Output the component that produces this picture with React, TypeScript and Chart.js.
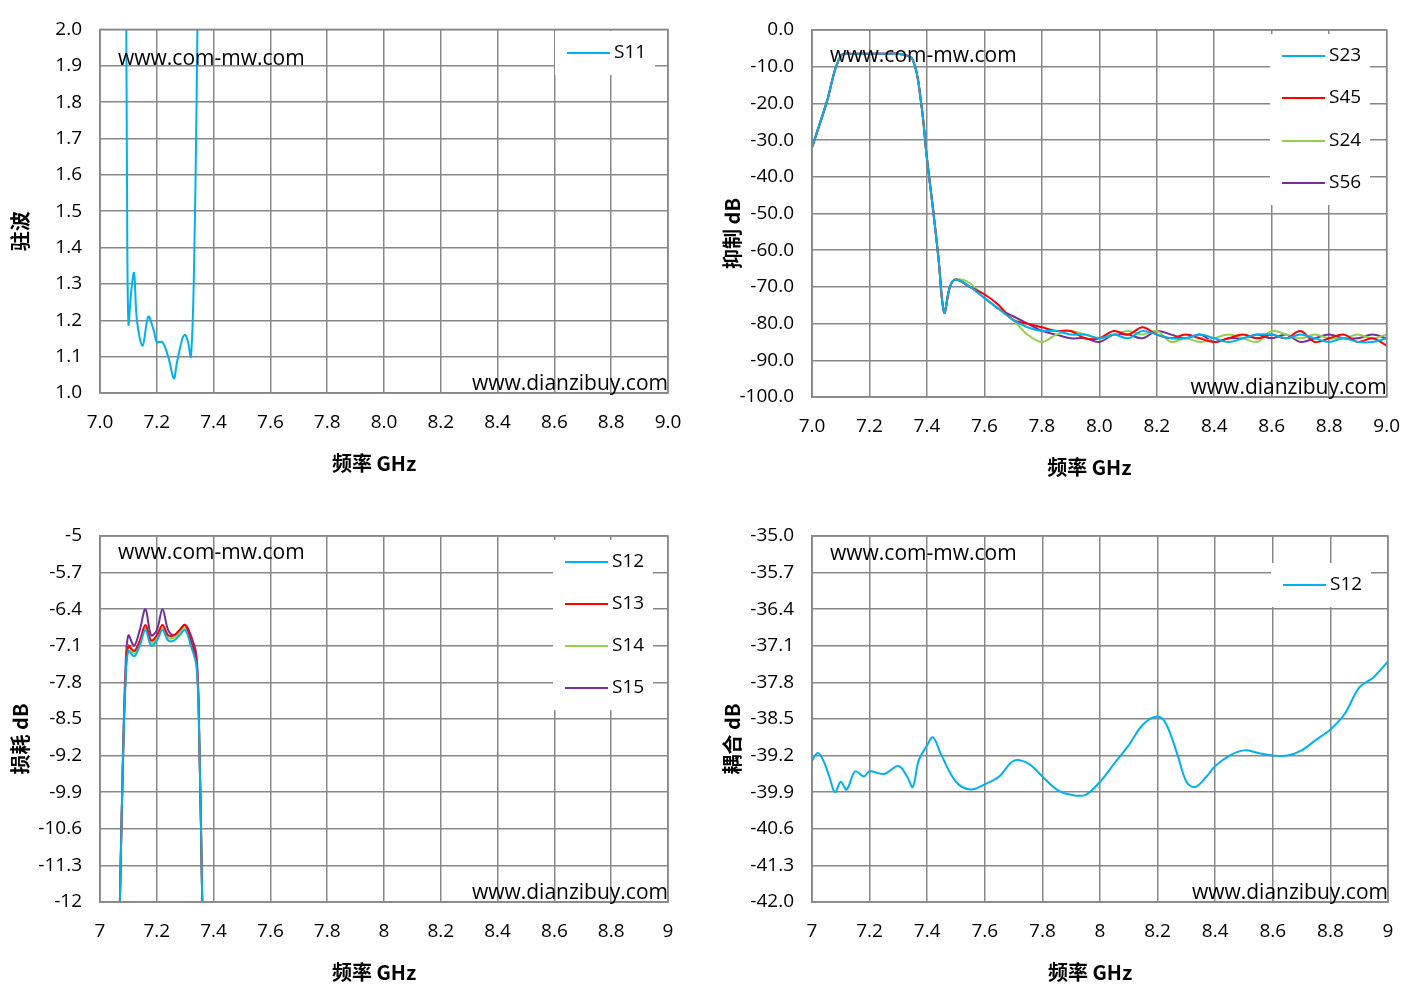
import React, { useEffect, useRef } from "react";
import { Chart, registerables } from "chart.js";
Chart.register(...registerables);

// ---------- data ----------
const s11X = [7.09, 7.095, 7.1, 7.11, 7.12, 7.13, 7.15, 7.17, 7.19, 7.2, 7.22, 7.24, 7.26, 7.27, 7.29, 7.3, 7.31, 7.32, 7.33, 7.34, 7.35];
const s11Y = [2.5, 1.6, 1.19, 1.28, 1.33, 1.2, 1.13, 1.21, 1.17, 1.14, 1.14, 1.1, 1.04, 1.08, 1.15, 1.16, 1.14, 1.1, 1.3, 1.8, 2.5];

const rejX = [7.0, 7.05, 7.1, 7.15, 7.2, 7.25, 7.3, 7.35, 7.38, 7.4, 7.42, 7.44, 7.46, 7.48, 7.5, 7.55, 7.6, 7.65, 7.7, 7.75, 7.8, 7.85, 7.9, 7.95, 8.0, 8.05, 8.1, 8.15, 8.2, 8.25, 8.3, 8.35, 8.4, 8.45, 8.5, 8.55, 8.6, 8.65, 8.7, 8.75, 8.8, 8.85, 8.9, 8.95, 9.0];
const s23 = [-32, -20, -7, -6.5, -6.5, -6.5, -6.5, -8, -20, -35, -48, -62, -77, -70, -68, -70, -73, -76, -79, -81, -82, -82, -83, -83, -84, -83, -84, -82, -83, -84, -84, -83, -84, -85, -84, -83, -83, -84, -83, -84, -85, -84, -85, -85, -84];
const s45 = [-32, -20, -7, -6.5, -6.5, -6.5, -6.5, -8, -20, -35, -48, -62, -77, -70, -68, -70, -72, -75, -79, -80, -81, -82, -82, -84, -84, -82, -83, -81, -83, -84, -83, -84, -85, -84, -83, -84, -83, -84, -82, -85, -84, -83, -85, -84, -86];
const s24 = [-32, -20, -7, -6.5, -6.5, -6.5, -6.5, -8, -20, -35, -48, -62, -77, -70, -68, -69, -73, -76, -79, -83, -85, -83, -82, -83, -84, -83, -82, -83, -82, -85, -84, -85, -84, -83, -84, -85, -82, -83, -84, -83, -84, -84, -83, -84, -83];
const s56 = [-32, -20, -7, -6.5, -6.5, -6.5, -6.5, -8, -20, -35, -48, -62, -77, -70, -68, -70, -73, -76, -78, -80, -82, -83, -84, -84, -85, -83, -83, -84, -82, -83, -84, -83, -85, -84, -84, -83, -84, -83, -85, -84, -83, -84, -84, -83, -84];

const lossX = [7.07, 7.08, 7.09, 7.1, 7.12, 7.14, 7.16, 7.18, 7.2, 7.22, 7.24, 7.26, 7.28, 7.3, 7.32, 7.34, 7.35, 7.36];
const s12L = [-12, -9.5, -7.8, -7.2, -7.3, -7.1, -6.8, -7.1, -7.0, -6.8, -7.0, -7.0, -6.9, -6.8, -7.1, -7.5, -9, -12];
const s13L = [-12, -9.5, -7.7, -7.1, -7.2, -7.0, -6.7, -7.0, -6.9, -6.7, -6.9, -6.9, -6.8, -6.7, -7.0, -7.4, -9, -12];
const s14L = [-12, -9.5, -7.7, -7.1, -7.25, -7.05, -6.75, -7.05, -6.95, -6.75, -6.95, -6.95, -6.85, -6.75, -7.05, -7.45, -9, -12];
const s15L = [-12, -9.4, -7.5, -6.9, -7.1, -6.8, -6.4, -6.9, -6.8, -6.4, -6.8, -6.9, -6.8, -6.7, -6.9, -7.3, -9, -12];

const cplX = [7.0, 7.02, 7.04, 7.06, 7.08, 7.1, 7.12, 7.15, 7.18, 7.2, 7.25, 7.3, 7.33, 7.35, 7.37, 7.4, 7.42, 7.45, 7.5, 7.55, 7.6, 7.65, 7.7, 7.75, 7.8, 7.85, 7.9, 7.95, 8.0, 8.05, 8.1, 8.15, 8.2, 8.23, 8.27, 8.3, 8.33, 8.37, 8.4, 8.45, 8.5, 8.55, 8.6, 8.65, 8.7, 8.75, 8.8, 8.85, 8.9, 8.95, 9.0];
const cplY = [-39.3, -39.15, -39.3, -39.6, -39.9, -39.7, -39.85, -39.5, -39.6, -39.5, -39.55, -39.4, -39.6, -39.8, -39.3, -39.0, -38.85, -39.2, -39.7, -39.85, -39.75, -39.6, -39.3, -39.35, -39.6, -39.85, -39.95, -39.95, -39.7, -39.35, -39.0, -38.6, -38.45, -38.6, -39.2, -39.7, -39.8, -39.6, -39.4, -39.2, -39.1, -39.15, -39.2, -39.2, -39.1, -38.9, -38.7, -38.4, -37.9, -37.7, -37.4];

const BLUE = "#00B0F0", RED = "#FF0000", GREEN = "#92D050", PURPLE = "#7030A0";
const FONT = "'Open Sans', 'Liberation Sans', sans-serif";
const CJK = "'Noto Sans CJK SC', serif";

type Series = { label: string; x: number[]; y: number[]; color: string };

const fmt = (v: number, dec: number) => (dec < 0 ? String(+v.toFixed(1)) : v.toFixed(dec));

function overlay(yTitle: string, legendX: number, legendYs: number[], series: Series[], wmY: number) {
  return {
    id: "overlay",
    afterDraw(chart: any) {
      const { ctx, chartArea: a } = chart;
      ctx.save();
      ctx.fillStyle = "#000";
      ctx.font = `21px ${FONT}`;
      ctx.textBaseline = "middle";
      ctx.textAlign = "left";
      ctx.fillText("www.com-mw.com", a.left + 18, a.top + wmY);
      ctx.textAlign = "right";
      ctx.fillText("www.dianzibuy.com", a.right, a.bottom - 9);
      const top = legendYs[0] - 22;
      const h = legendYs[legendYs.length - 1] - legendYs[0] + 44;
      ctx.fillStyle = "#fff";
      ctx.fillRect(a.left + legendX - 12, top, 100, h);
      series.forEach((s, i) => {
        const y = legendYs[i];
        ctx.strokeStyle = s.color;
        ctx.lineWidth = 2;
        ctx.beginPath();
        ctx.moveTo(a.left + legendX, y);
        ctx.lineTo(a.left + legendX + 43, y);
        ctx.stroke();
        ctx.fillStyle = "#000";
        ctx.textAlign = "left";
        ctx.font = `19px ${FONT}`;
        ctx.fillText(s.label, a.left + legendX + 47, y);
      });
      ctx.font = `bold 20px ${CJK}`;
      ctx.textAlign = "center";
      ctx.fillText("频率 GHz", (a.left + a.right) / 2 - 10, a.bottom + 70);
      ctx.translate(a.left - 80, (a.top + a.bottom) / 2 + 20);
      ctx.rotate(-Math.PI / 2);
      ctx.fillText(yTitle, 0, 0);
      ctx.restore();
    },
  };
}

type Cfg = {
  left: number; top: number; pad: { left: number; top: number; right: number; bottom: number };
  ymin: number; ymax: number; ystep: number; ydec: number; xdec: number; wmY: number;
  series: Series[]; yTitle: string; legendX: number; legendYs: number[];
};

function Panel({ cfg }: { cfg: Cfg }) {
  const ref = useRef<HTMLCanvasElement>(null);
  useEffect(() => {
    const c = cfg;
    const yTicks: number[] = [];
    for (let i = 0; i <= 10; i++) yTicks.push(+(c.ymin + i * c.ystep).toFixed(2));
    const xTicks: number[] = [];
    for (let i = 0; i <= 10; i++) xTicks.push(+(7 + i * 0.2).toFixed(1));
    const ch = new Chart(ref.current!, {
      type: "line",
      data: {
        datasets: c.series.map((s) => ({
          label: s.label,
          data: s.x.map((x, i) => ({ x, y: s.y[i] })),
          borderColor: s.color, borderWidth: 2, pointRadius: 0, tension: 0.35, fill: false,
        })),
      },
      options: {
        animation: false, responsive: false,
        layout: { padding: { top: c.pad.top, right: c.pad.right, left: 0, bottom: 0 } },
        plugins: { legend: { display: false }, tooltip: { enabled: false } },
        scales: {
          x: {
            type: "linear", min: 7, max: 9,
            afterBuildTicks: (s: any) => { s.ticks = xTicks.map((v) => ({ value: v })); },
            afterFit: (s: any) => { s.height = c.pad.bottom; },
            ticks: { color: "#000", font: { size: 19, family: FONT }, padding: 18, maxRotation: 0,
              callback: (v: any) => fmt(+v, c.xdec) },
            grid: { color: "#888", lineWidth: 1.5, tickLength: 0 },
            border: { color: "#888", width: 1.5 },
          },
          y: {
            min: c.ymin, max: c.ymax,
            afterBuildTicks: (s: any) => { s.ticks = yTicks.map((v) => ({ value: v })); },
            afterFit: (s: any) => { s.width = c.pad.left; },
            ticks: { color: "#000", font: { size: 19, family: FONT }, padding: 18,
              callback: (v: any) => fmt(+v, c.ydec) },
            grid: { color: "#888", lineWidth: 1.5, tickLength: 0 },
            border: { color: "#888", width: 1.5 },
          },
        },
      } as any,
      plugins: [overlay(c.yTitle, c.legendX, c.legendYs, c.series, c.wmY), {
        id: "rb", afterDatasetsDraw(chart: any) {
          const { ctx, chartArea: a } = chart;
          ctx.save(); ctx.strokeStyle = "#888"; ctx.lineWidth = 1.5;
          ctx.strokeRect(a.left, a.top, a.right - a.left, a.bottom - a.top); ctx.restore();
        } }],
    });
    return () => ch.destroy();
  }, []);
  return (
    <canvas ref={ref} width={709} height={499}
      style={{ position: "absolute", left: cfg.left, top: cfg.top, width: 709, height: 499 }} />
  );
}

const panels: Cfg[] = [
  { left: 0, top: 0, pad: { left: 100, top: 25, right: 41, bottom: 106 }, ymin: 1, ymax: 2, ystep: 0.1, ydec: 1, xdec: 1, wmY: 30,
    series: [{ label: "S11", x: s11X, y: s11Y, color: BLUE }], yTitle: "驻波", legendX: 467, legendYs: [53] },
  { left: 709, top: 0, pad: { left: 103, top: 30, right: 30, bottom: 102 }, ymin: -100, ymax: 0, ystep: 10, ydec: 1, xdec: 1, wmY: 26,
    series: [
      { label: "S23", x: rejX, y: s23, color: BLUE },
      { label: "S45", x: rejX, y: s45, color: RED },
      { label: "S24", x: rejX, y: s24, color: GREEN },
      { label: "S56", x: rejX, y: s56, color: PURPLE },
    ], yTitle: "抑制 dB", legendX: 470, legendYs: [56, 98, 141, 183] },
  { left: 0, top: 499, pad: { left: 100, top: 37, right: 41, bottom: 96 }, ymin: -12, ymax: -5, ystep: 0.7, ydec: -1, xdec: -1, wmY: 17,
    series: [
      { label: "S12", x: lossX, y: s12L, color: BLUE },
      { label: "S13", x: lossX, y: s13L, color: RED },
      { label: "S14", x: lossX, y: s14L, color: GREEN },
      { label: "S15", x: lossX, y: s15L, color: PURPLE },
    ], yTitle: "损耗 dB", legendX: 465, legendYs: [63, 105, 147, 189] },
  { left: 709, top: 499, pad: { left: 103, top: 37, right: 30, bottom: 96 }, ymin: -42, ymax: -35, ystep: 0.7, ydec: 1, xdec: -1, wmY: 18,
    series: [{ label: "S12", x: cplX, y: cplY, color: BLUE }], yTitle: "耦合 dB", legendX: 471, legendYs: [86] },
];

export default function App() {
  return (
    <div style={{ position: "fixed", left: 0, top: 0, width: 1418, height: 998, background: "#fff" }}>
      {panels.map((p, i) => <Panel key={i} cfg={p} />)}
    </div>
  );
}
